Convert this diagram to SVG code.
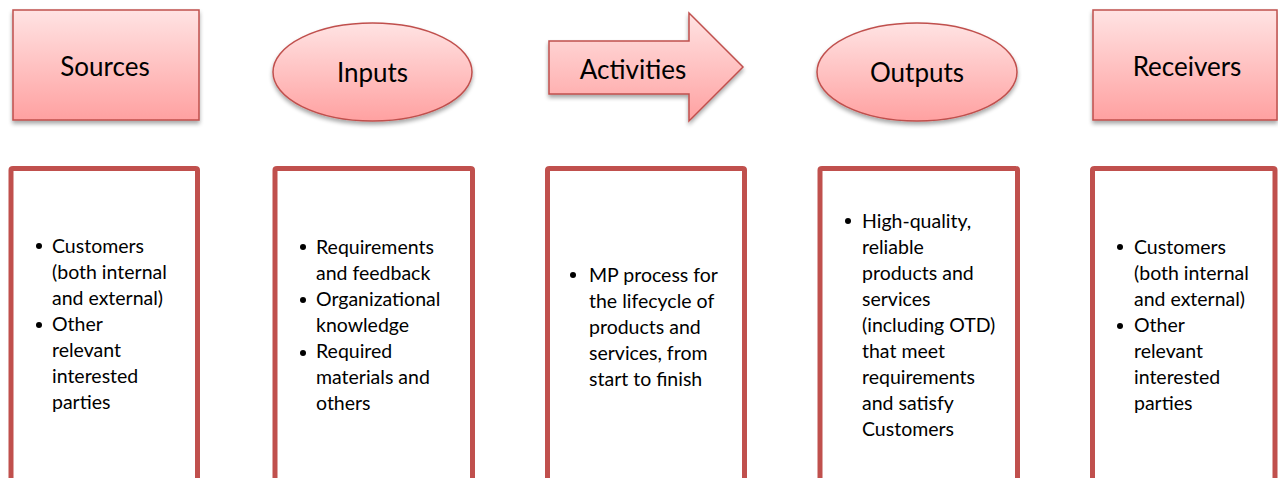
<svg xmlns="http://www.w3.org/2000/svg" width="1278" height="478" viewBox="0 0 1278 478">
  <defs>
    <linearGradient id="pinkFill" x1="0" y1="0" x2="0" y2="1">
      <stop offset="0" stop-color="#FFE3E3"/>
      <stop offset="0.5" stop-color="#FFC2C2"/>
      <stop offset="1" stop-color="#FFA1A1"/>
    </linearGradient>
    <filter id="softShadow" x="-10%" y="-10%" width="120%" height="130%">
      <feGaussianBlur in="SourceAlpha" stdDeviation="2"/>
      <feOffset dx="0" dy="3" result="blur"/>
      <feComponentTransfer><feFuncA type="linear" slope="0.35"/></feComponentTransfer>
      <feMerge><feMergeNode/><feMergeNode in="SourceGraphic"/></feMerge>
    </filter>
  </defs>
  <style>
    .head { fill: url(#pinkFill); stroke: #C0504D; stroke-width: 1.5; filter: url(#softShadow); }
    .panel { fill: #FFFFFF; stroke: #C0504D; stroke-width: 5; }
    .title { font-family: Lato, "Open Sans", sans-serif; font-size: 26px; fill: #000; text-anchor: middle; }
    .body { font-family: Lato, "Open Sans", sans-serif; font-size: 19.5px; fill: #000; }
    .dot { fill: #000; }
  </style>

  <rect width="1278" height="478" fill="#FFFFFF"/>

  <!-- header shapes -->
  <g id="sources">
    <rect class="head" x="13" y="10" width="186" height="110"/>
    <text class="title" x="105" y="76">Sources</text>
  </g>
  <g id="inputs">
    <ellipse class="head" cx="372.5" cy="72" rx="99.5" ry="49"/>
    <text class="title" x="372.5" y="82">Inputs</text>
  </g>
  <g id="activities">
    <path class="head" d="M549,41 H689 V13 L743,67 L689,121 V94 H549 Z"/>
    <text class="title" x="633" y="79">Activities</text>
  </g>
  <g id="outputs">
    <ellipse class="head" cx="917" cy="72" rx="100" ry="49"/>
    <text class="title" x="917" y="82">Outputs</text>
  </g>
  <g id="receivers">
    <rect class="head" x="1093" y="10" width="184" height="110"/>
    <text class="title" x="1187" y="76">Receivers</text>
  </g>

  <!-- detail panels (open at the bottom edge) -->
  <g id="sources-detail">
    <path class="panel" d="M11,490 V170 Q11,168.5 13,168.5 H195.5 Q197.5,168.5 197.5,170 V490"/>
    <circle class="dot" cx="39" cy="246" r="3"/>
    <circle class="dot" cx="39" cy="325" r="3"/>
    <text class="body">
      <tspan x="52" y="253">Customers</tspan>
      <tspan x="52" y="279">(both internal</tspan>
      <tspan x="52" y="305">and external)</tspan>
      <tspan x="52" y="331">Other</tspan>
      <tspan x="52" y="357">relevant</tspan>
      <tspan x="52" y="383">interested</tspan>
      <tspan x="52" y="409">parties</tspan>
    </text>
  </g>
  <g id="inputs-detail">
    <path class="panel" d="M275,490 V170 Q275,168.5 277,168.5 H470.5 Q472.5,168.5 472.5,170 V490"/>
    <circle class="dot" cx="303" cy="247" r="3"/>
    <circle class="dot" cx="303" cy="300" r="3"/>
    <circle class="dot" cx="303" cy="353" r="3"/>
    <text class="body">
      <tspan x="316" y="254">Requirements</tspan>
      <tspan x="316" y="280">and feedback</tspan>
      <tspan x="316" y="306">Organizational</tspan>
      <tspan x="316" y="332">knowledge</tspan>
      <tspan x="316" y="358">Required</tspan>
      <tspan x="316" y="384">materials and</tspan>
      <tspan x="316" y="410">others</tspan>
    </text>
  </g>
  <g id="activities-detail">
    <path class="panel" d="M547.5,490 V170 Q547.5,168.5 549.5,168.5 H742.5 Q744.5,168.5 744.5,170 V490"/>
    <circle class="dot" cx="573" cy="275" r="3"/>
    <text class="body">
      <tspan x="589" y="282">MP process for</tspan>
      <tspan x="589" y="308">the lifecycle of</tspan>
      <tspan x="589" y="334">products and</tspan>
      <tspan x="589" y="360">services, from</tspan>
      <tspan x="589" y="386">start to finish</tspan>
    </text>
  </g>
  <g id="outputs-detail">
    <path class="panel" d="M820,490 V170 Q820,168.5 822,168.5 H1015.5 Q1017.5,168.5 1017.5,170 V490"/>
    <circle class="dot" cx="848" cy="221" r="3"/>
    <text class="body">
      <tspan x="862" y="228">High-quality,</tspan>
      <tspan x="862" y="254">reliable</tspan>
      <tspan x="862" y="280">products and</tspan>
      <tspan x="862" y="306">services</tspan>
      <tspan x="862" y="332">(including OTD)</tspan>
      <tspan x="862" y="358">that meet</tspan>
      <tspan x="862" y="384">requirements</tspan>
      <tspan x="862" y="410">and satisfy</tspan>
      <tspan x="862" y="436">Customers</tspan>
    </text>
  </g>
  <g id="receivers-detail">
    <path class="panel" d="M1092.5,490 V170 Q1092.5,168.5 1094.5,168.5 H1273 Q1275,168.5 1275,170 V490"/>
    <circle class="dot" cx="1120" cy="247" r="3"/>
    <circle class="dot" cx="1120" cy="326" r="3"/>
    <text class="body">
      <tspan x="1134" y="254">Customers</tspan>
      <tspan x="1134" y="280">(both internal</tspan>
      <tspan x="1134" y="306">and external)</tspan>
      <tspan x="1134" y="332">Other</tspan>
      <tspan x="1134" y="358">relevant</tspan>
      <tspan x="1134" y="384">interested</tspan>
      <tspan x="1134" y="410">parties</tspan>
    </text>
  </g>

  <!-- no connectors are drawn between the stages -->
  <g id="connectors"/>
</svg>
